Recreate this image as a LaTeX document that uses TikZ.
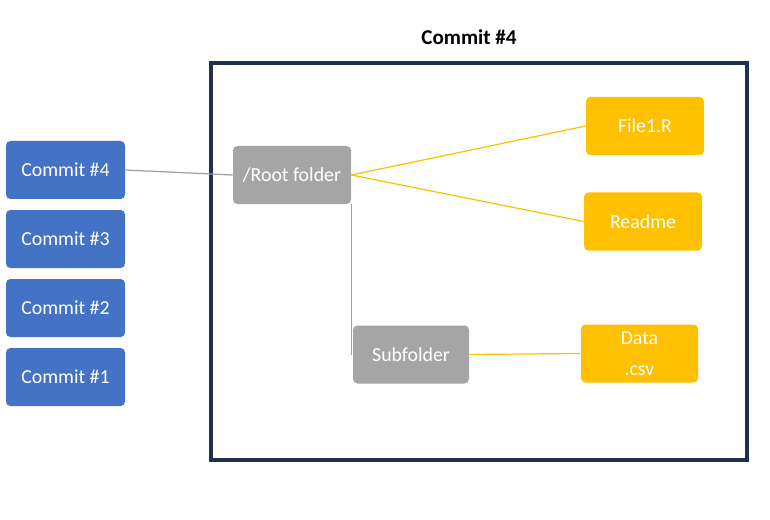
\documentclass[tikz,border=0pt]{standalone}
\usepackage{fontspec}
\setmainfont{Carlito}
\definecolor{commitblue}{HTML}{4472C4}
\definecolor{foldergray}{HTML}{A5A5A5}
\definecolor{filegold}{HTML}{FFC000}
\definecolor{framenavy}{HTML}{1F3050}
\definecolor{linkgray}{HTML}{A0A0A0}
\newlength{\pxu}
\setlength{\pxu}{0.02cm}
\tikzset{
  box/.style={rounded corners=2.5pt,text=white,inner sep=0pt,
    font=\fontsize{11.3}{13.5}\selectfont,align=center},
  commit/.style={box,fill=commitblue,minimum width=119\pxu,minimum height=58\pxu},
  folder/.style={box,fill=foldergray,minimum width=118\pxu,minimum height=58\pxu},
  file/.style={box,fill=filegold,minimum width=118\pxu,minimum height=58\pxu},
  graylink/.style={linkgray,line width=0.7pt},
  goldlink/.style={filegold,line width=0.7pt}
}
\begin{document}
\begin{tikzpicture}[x=0.02cm,y=-0.02cm]
    % bbox matches the 770x520 canvas
    \useasboundingbox (0,0) rectangle (770,520);

    % snapshot frame + title
    \draw[framenavy,line width=2pt] (211,63) rectangle (747,460);
    \node[font=\bfseries\fontsize{12}{14}\selectfont] (title) at (469,37) {Commit \#4};

    % commit history
    \node[commit] (c4) at (65.5,170) {Commit \#4};
    \node[commit] (c3) at (65.5,239) {Commit \#3};
    \node[commit] (c2) at (65.5,308) {Commit \#2};
    \node[commit] (c1) at (65.5,377) {Commit \#1};

    % folders
    \node[folder] (root) at (292,175) {/Root folder};
    \node[folder,minimum width=116\pxu] (subf) at (411,354.5) {Subfolder};

    % files
    \node[file] (file1) at (645,126) {File1.R};
    \node[file] (readme) at (643,221.5) {Readme};
    \node[file,minimum width=117\pxu,font=\fontsize{11.3}{17.5}\selectfont] (data) at (639.5,353.5) {Data\\.csv};

    % links
    \draw[graylink] (c4.east) -- (root.west);
    \draw[goldlink] (root.east) -- (file1.west);
    \draw[goldlink] (root.east) -- (readme.west);
    \draw[graylink] ([xshift=-1\pxu]root.south -| subf.west) -- ([xshift=-1\pxu]subf.west);
    \draw[goldlink] (subf.east) -- (data.west);
  \end{tikzpicture}
\end{document}
